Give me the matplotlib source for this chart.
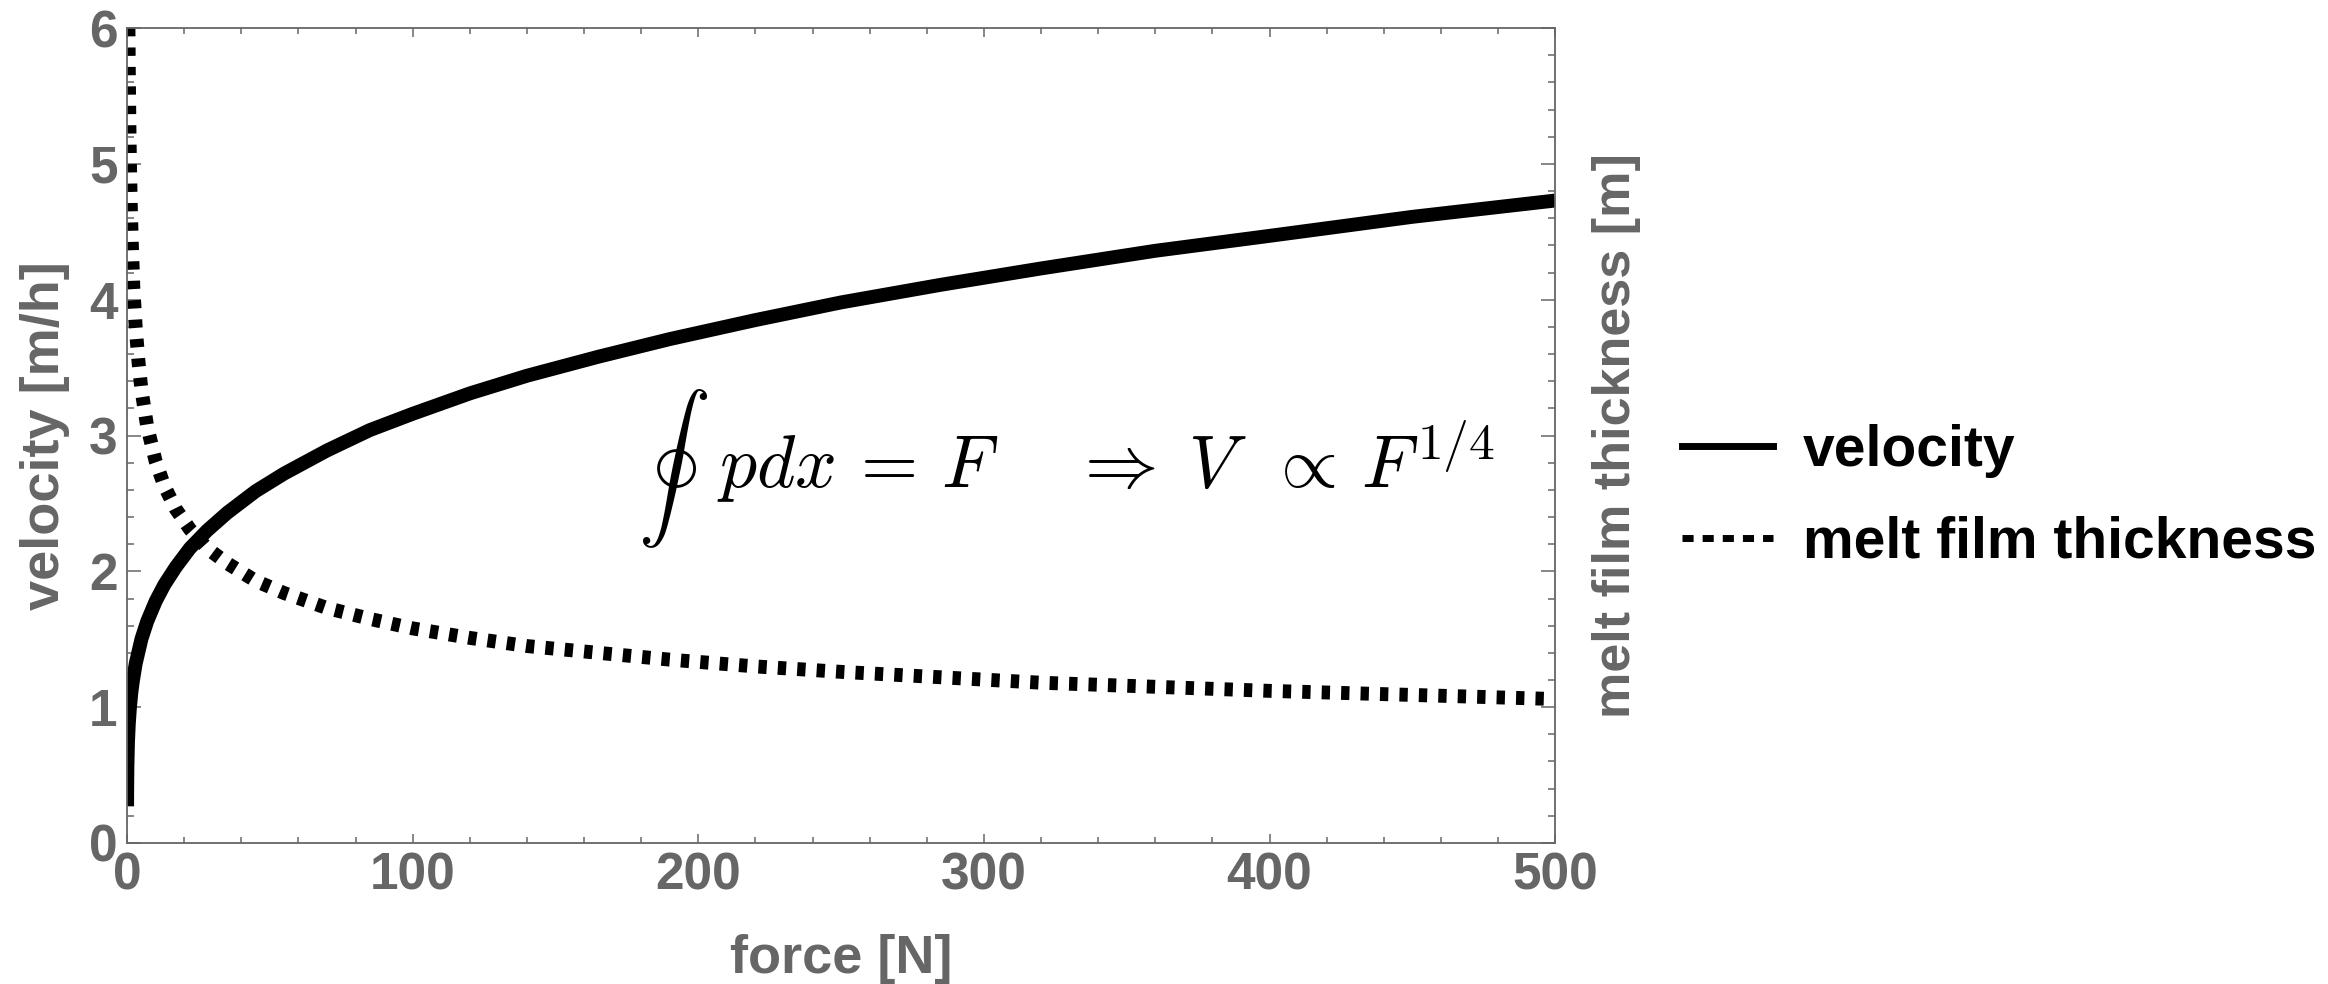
import matplotlib
matplotlib.use('Agg')
import matplotlib.pyplot as plt
from matplotlib.lines import Line2D
from matplotlib.ticker import MultipleLocator

# values
force_v = [0.005, 0.02, 0.1, 0.3, 0.6, 1, 1.5, 2, 3, 4, 5, 7, 10, 13, 17, 22,
           28, 35, 45, 55, 70, 85, 100, 120, 140, 165, 190, 220, 250, 285,
           320, 360, 400, 450, 500]
velocity = [0.27, 0.38, 0.56, 0.74, 0.88, 1.00, 1.11, 1.19, 1.32, 1.41, 1.50,
            1.63, 1.78, 1.90, 2.03, 2.17, 2.30, 2.43, 2.59, 2.72, 2.89, 3.04,
            3.16, 3.31, 3.44, 3.58, 3.71, 3.85, 3.98, 4.11, 4.23, 4.36, 4.47,
            4.61, 4.73]

force_h = [0.48, 0.6, 0.8, 1, 1.3, 1.7, 2.2, 3, 4, 5, 7, 10, 13, 17, 22, 28,
           35, 45, 55, 70, 85, 100, 120, 140, 165, 190, 220, 250, 285, 320,
           360, 400, 450, 500]
thickness = [6.00, 5.68, 5.29, 5.00, 4.68, 4.38, 4.08, 3.80, 3.54, 3.34, 3.07,
             2.81, 2.63, 2.46, 2.31, 2.17, 2.06, 1.93, 1.84, 1.73, 1.65, 1.58,
             1.51, 1.45, 1.40, 1.35, 1.30, 1.26, 1.22, 1.18, 1.15, 1.12, 1.09,
             1.06]

x_ticks = [0, 100, 200, 300, 400, 500]
y_ticks = [0, 1, 2, 3, 4, 5, 6]

GRAY = '#666666'
plt.rcParams['font.family'] = ['Liberation Sans', 'DejaVu Sans']
plt.rcParams['mathtext.fontset'] = 'cm'

fig = plt.figure(figsize=(23.28, 9.84), dpi=100)
ax = fig.add_axes([0.0546, 0.1433, 0.6134, 0.8282])

lw = 10
ax.plot(force_v, velocity, color='black', lw=lw, solid_capstyle='butt')
ax.plot(force_h, thickness, color='black', lw=lw,
        linestyle=(0, (0.6, 0.8)), dash_capstyle='butt')

ax.set_xlim(0, 500)
ax.set_ylim(0, 6)
ax.set_xticks(x_ticks)
ax.set_yticks(y_ticks)
ax.xaxis.set_minor_locator(MultipleLocator(20))
ax.yaxis.set_minor_locator(MultipleLocator(0.2))

for sp in ax.spines.values():
    sp.set_color(GRAY)
    sp.set_linewidth(1.3)

ax.tick_params(which='both', direction='in', top=True, right=True,
               color=GRAY, width=1.1)
ax.tick_params(axis='x', which='major', length=6.5, pad=6)
ax.tick_params(axis='x', which='minor', length=4)
ax.tick_params(axis='y', which='major', length=10, pad=7)
ax.tick_params(axis='y', which='minor', length=5)
for lab in ax.get_xticklabels() + ax.get_yticklabels():
    lab.set_fontsize(37)
    lab.set_fontweight('bold')
    lab.set_color(GRAY)

label_kw = dict(transform=ax.transAxes, fontweight='bold', color=GRAY)
ax.text(0.5, -0.1595, 'force [N]', ha='center', va='baseline', fontsize=39,
        **label_kw)
ax.text(-0.0574, 0.5, 'velocity [m/h]', rotation=90, ha='center',
        va='center', fontsize=39, **label_kw)
ax.text(1.043, 0.5, 'melt film thickness [m]', rotation=90, ha='center',
        va='center', fontsize=37.5, **label_kw)

# equation: contour integral drawn on its own so it does not overlap "p"
ax.text(0.358, 0.459, r'$\oint$', transform=ax.transAxes, ha='left',
        va='center', fontsize=52, color='black')
ax.text(0.4132, 0.4356,
        r'$pdx\,=\,F\quad\;\Rightarrow\;V\;\;\propto\,F^{1/4}$',
        transform=ax.transAxes, ha='left', va='baseline', fontsize=53,
        color='black')

handles = [Line2D([], [], color='black', lw=5),
           Line2D([], [], color='black', lw=5, linestyle=(0, (1.6, 1.3)))]
fig.legend(handles, ['velocity', 'melt film thickness'],
           loc='center left', bbox_to_anchor=(0.7225, 0.495), frameon=False,
           prop={'size': 41, 'weight': 'bold'}, handlelength=1.6,
           handletextpad=0.52, labelspacing=0.66, borderpad=0,
           borderaxespad=0)

fig.savefig('out.png', dpi=100)
